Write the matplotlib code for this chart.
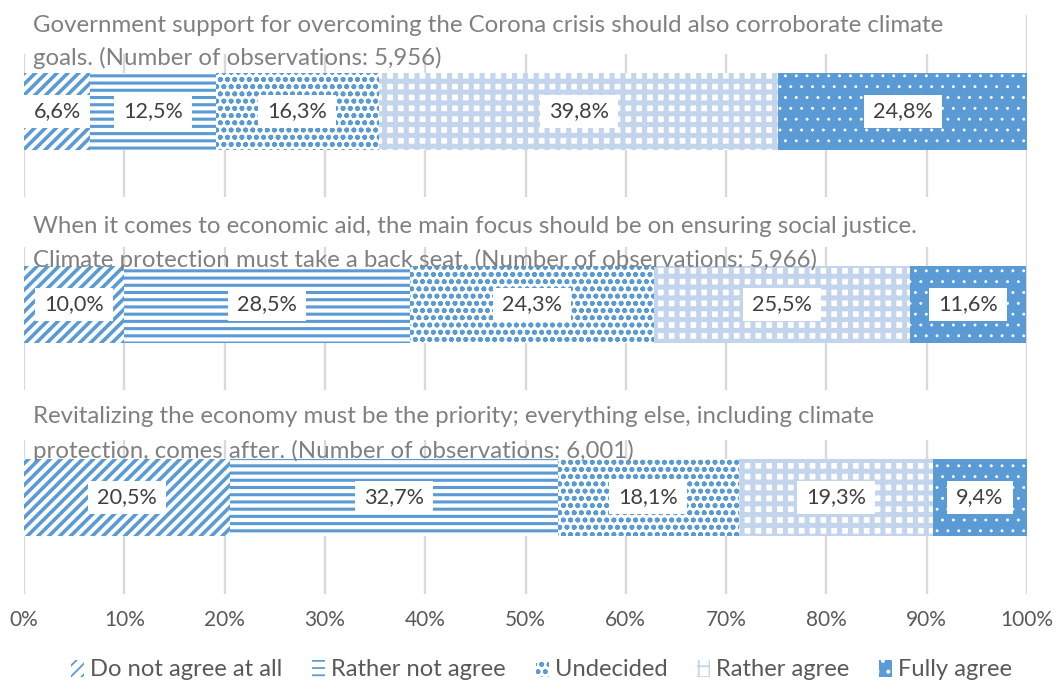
import matplotlib
matplotlib.use("Agg")
import matplotlib.pyplot as plt
from matplotlib.patches import Rectangle, Patch
from matplotlib.path import Path
from matplotlib.ticker import FuncFormatter

plt.rcParams['font.family'] = ['Lato', 'DejaVu Sans']

# ---- data ----
titles = [
    ["Government support for overcoming the Corona crisis should also corroborate climate",
     "goals. (Number of observations: 5,956)"],
    ["When it comes to economic aid, the main focus should be on ensuring social justice.",
     "Climate protection must take a back seat. (Number of observations: 5,966)"],
    ["Revitalizing the economy must be the priority; everything else, including climate",
     "protection, comes after. (Number of observations: 6,001)"],
]
categories = ["Do not agree at all", "Rather not agree", "Undecided", "Rather agree", "Fully agree"]
do_not_agree = [6.6, 10.0, 20.5]
rather_not = [12.5, 28.5, 32.7]
undecided = [16.3, 24.3, 18.1]
rather_agree = [39.8, 25.5, 19.3]
fully_agree = [24.8, 11.6, 9.4]
series = [do_not_agree, rather_not, undecided, rather_agree, fully_agree]
xticks = [0, 10, 20, 30, 40, 50, 60, 70, 80, 90, 100]

# ---- styles ----
BLUE = '#5b9bd5'
LIGHT = '#c3d4ed'
styles = [
    dict(face='white', hatch='////', hc=BLUE, hlw=2.0),
    dict(face='white', hatch='---', hc=BLUE, hlw=1.7),
    dict(face='white', hatch='ooo', hc=BLUE, hlw=1.1),
    dict(face='white', hatch='++', hc=LIGHT, hlw=2.8),
    dict(face=BLUE, hatch='..', hc='white', hlw=0.4),
]

DPI = 130
W, H = 1058, 688
fig = plt.figure(figsize=(W / DPI, H / DPI), dpi=DPI)
ax = fig.add_axes([24 / W, (H - 594) / H, (1027 - 24) / W, (594 - 15) / H])

n = len(titles)
ax.set_xlim(0, 100)
ax.set_ylim(n - 0.5, -0.5)

for t in xticks:
    ax.axvline(t, color='#d9d9d9', lw=1.3, zorder=0.5)

band_px = 193.0
for i in range(n):
    y0 = max(i - 0.557, -0.5)
    ax.add_patch(Rectangle((-1, y0), 100.2, (i - 0.298) - y0, facecolor='white',
                           edgecolor='none', zorder=1, clip_on=False))


def set_hlw(p, v):
    try:
        p.set_hatch_linewidth(v)
    except AttributeError:
        pass


def label_box(x0, y0, width, height, mutation_size):
    px = 0.42 * mutation_size
    py = 0.30 * mutation_size
    x0, y0 = x0 - px, y0 - py
    x1, y1 = x0 + width + 2 * px, y0 + height + 2 * py
    return Path([(x0, y0), (x1, y0), (x1, y1), (x0, y1), (x0, y0)], closed=True)


left = [0.0] * n
for k, vals in enumerate(series):
    st = styles[k]
    with plt.rc_context({'hatch.linewidth': st['hlw']}):
        bars = ax.barh(range(n), vals, left=left, height=0.399, color=st['face'],
                       edgecolor=st['hc'], linewidth=0, hatch=st['hatch'], zorder=2,
                       label=categories[k])
    for b in bars:
        set_hlw(b, st['hlw'])
    for i, v in enumerate(vals):
        ax.text(left[i] + v / 2, i, f"{v:.1f}%".replace('.', ','), ha='center', va='center',
                fontsize=12, color='#404040', zorder=4,
                bbox=dict(facecolor='white', edgecolor='none', boxstyle=label_box))
        left[i] += v

title_off = [[-86.5, -53.5], [-78.0, -45.0], [-81.0, -47.0]]
for i, lines in enumerate(titles):
    for j, line in enumerate(lines):
        ax.text(0.9, i + title_off[i][j] / band_px, line, ha='left', va='center',
                fontsize=13.3, color='#808080', zorder=3)

ax.set_xticks(xticks)
ax.xaxis.set_major_formatter(FuncFormatter(lambda v, p: f"{v:.0f}%"))
ax.tick_params(axis='x', length=0, labelsize=11.6, labelcolor='#595959', pad=9)
ax.set_yticks([])
for s in ax.spines.values():
    s.set_visible(False)

handles = []
for k, st in enumerate(styles):
    with plt.rc_context({'hatch.linewidth': st['hlw'] * 0.7}):
        h = Patch(facecolor=st['face'], edgecolor=st['hc'], linewidth=0, hatch=st['hatch'],
                  label=categories[k])
    set_hlw(h, st['hlw'] * 0.7)
    handles.append(h)
fig.legend(handles=handles, loc='center', bbox_to_anchor=(0.512, (H - 670) / H), ncol=5,
           frameon=False, fontsize=13.2, handlelength=0.55, handleheight=0.7,
           handletextpad=0.25, columnspacing=1.25, labelcolor='#595959')

fig.savefig('out.png', dpi=DPI)
